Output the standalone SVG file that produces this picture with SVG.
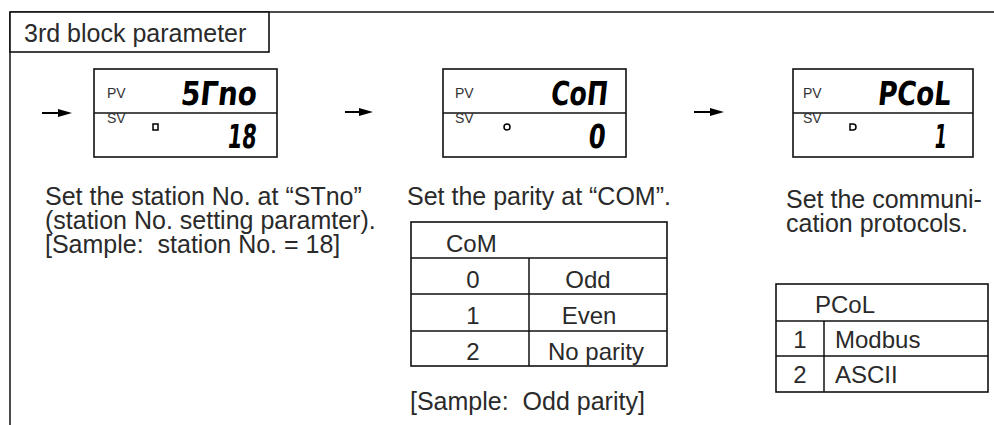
<svg xmlns="http://www.w3.org/2000/svg" width="994" height="425" viewBox="0 0 994 425">
<style>
.ln{stroke:#111;stroke-width:1.5;fill:none}
.box{stroke:#111;stroke-width:1.6;fill:#fff}
.t{font-family:"Liberation Sans",Arial,sans-serif;font-size:25px;fill:#2a2a2a}
.tb{font-family:"Liberation Sans",Arial,sans-serif;font-size:24px;fill:#2a2a2a}
.lab{font-family:"Liberation Sans",Arial,sans-serif;font-size:14px;fill:#333}
.seg{font-family:"DejaVu Sans",sans-serif;font-weight:bold;font-size:33px;fill:#000}
.arr{stroke:#000;stroke-width:2;fill:none}
.ah{fill:#000}
</style>
<rect width="994" height="425" fill="#fff"/>
<g id="frame">
<line class="ln" x1="10" y1="12" x2="994" y2="12"/>
<line class="ln" x1="10" y1="12" x2="10" y2="425"/>
</g>
<g id="title">
<rect class="box" x="10" y="12" width="259" height="40"/>
<text class="t" x="24" y="42">3rd block parameter</text>
</g>
<g id="display1">
<rect class="box" x="94" y="69" width="183" height="88"/>
<line class="ln" x1="94" y1="113" x2="277" y2="113"/>
<text class="lab" x="107" y="98">PV</text>
<text class="lab" x="107" y="123">SV</text>
<rect x="153" y="124" width="5" height="6" fill="none" stroke="#000" stroke-width="1.5"/>
<text class="seg" x="180" y="105" textLength="76" lengthAdjust="spacingAndGlyphs" transform="skewX(-6) translate(11 0)">5Γno</text>
<text class="seg" x="227" y="148" textLength="29" lengthAdjust="spacingAndGlyphs" transform="skewX(-6) translate(15 0)">18</text>
</g>
<g id="display2">
<rect class="box" x="443" y="69" width="183" height="88"/>
<line class="ln" x1="443" y1="113" x2="626" y2="113"/>
<text class="lab" x="455" y="98">PV</text>
<text class="lab" x="455" y="123">SV</text>
<circle cx="507" cy="127" r="3" fill="none" stroke="#000" stroke-width="1.5"/>
<text class="seg" x="550" y="105" textLength="57" lengthAdjust="spacingAndGlyphs" transform="skewX(-6) translate(11 0)">CoΠ</text>
<text class="seg" x="588" y="148" textLength="17" lengthAdjust="spacingAndGlyphs" transform="skewX(-6) translate(15 0)">0</text>
</g>
<g id="display3">
<rect class="box" x="793" y="69" width="180" height="88"/>
<line class="ln" x1="793" y1="113" x2="973" y2="113"/>
<text class="lab" x="803" y="98">PV</text>
<text class="lab" x="803" y="123">SV</text>
<path d="M850 124 h3 a3 3 0 0 1 0 6 h-3 z" fill="none" stroke="#000" stroke-width="1.5"/>
<text class="seg" x="877" y="105" textLength="73" lengthAdjust="spacingAndGlyphs" transform="skewX(-6) translate(11 0)">PCoL</text>
<text class="seg" x="934" y="148" textLength="12" lengthAdjust="spacingAndGlyphs" transform="skewX(-6) translate(15 0)">1</text>
</g>
<g id="connectors">
<line class="arr" x1="42" y1="113" x2="62" y2="113"/>
<path class="ah" d="M58 109 L72 113 L58 117 Z"/>
<line class="arr" x1="345" y1="112" x2="363" y2="112"/>
<path class="ah" d="M359 108 L373 112 L359 116 Z"/>
<line class="arr" x1="694" y1="112" x2="714" y2="112"/>
<path class="ah" d="M710 108 L724 112 L710 116 Z"/>
</g>
<g id="text1">
<text class="t" x="45" y="205">Set the station No. at “STno”</text>
<text class="t" x="45" y="229">(station No. setting paramter).</text>
<text class="t" x="45" y="253" xml:space="preserve">[Sample:  station No. = 18]</text>
</g>
<g id="text2">
<text class="t" x="407" y="205">Set the parity at “COM”.</text>
<text class="t" x="410" y="410" xml:space="preserve">[Sample:  Odd parity]</text>
</g>
<g id="table1">
<rect class="box" x="411" y="222" width="256" height="144"/>
<line class="ln" x1="411" y1="258" x2="667" y2="258"/>
<line class="ln" x1="411" y1="294" x2="667" y2="294"/>
<line class="ln" x1="411" y1="331" x2="667" y2="331"/>
<line class="ln" x1="529" y1="258" x2="529" y2="366"/>
<text class="tb" x="446" y="252">CoM</text>
<text class="tb" x="473" y="288" text-anchor="middle">0</text>
<text class="tb" x="473" y="324" text-anchor="middle">1</text>
<text class="tb" x="473" y="360" text-anchor="middle">2</text>
<text class="tb" x="588" y="288" text-anchor="middle">Odd</text>
<text class="tb" x="589" y="324" text-anchor="middle">Even</text>
<text class="tb" x="596" y="360" text-anchor="middle">No parity</text>
</g>
<g id="text3">
<text class="t" x="786" y="208">Set the communi-</text>
<text class="t" x="786" y="232">cation protocols.</text>
</g>
<g id="table2">
<rect class="box" x="776" y="284" width="212" height="108"/>
<line class="ln" x1="776" y1="321" x2="988" y2="321"/>
<line class="ln" x1="776" y1="356" x2="988" y2="356"/>
<line class="ln" x1="824" y1="321" x2="824" y2="392"/>
<text class="tb" x="815" y="313">PCoL</text>
<text class="tb" x="800" y="348" text-anchor="middle">1</text>
<text class="tb" x="800" y="383" text-anchor="middle">2</text>
<text class="tb" x="835" y="348">Modbus</text>
<text class="tb" x="835" y="383">ASCII</text>
</g>
</svg>
